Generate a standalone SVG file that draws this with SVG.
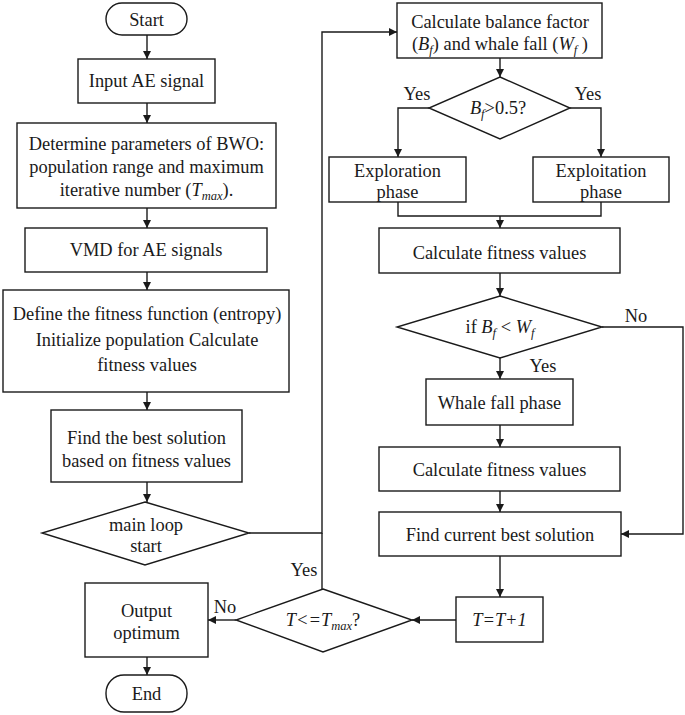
<svg xmlns="http://www.w3.org/2000/svg" width="685" height="715" viewBox="0 0 685 715">
<style>
.n{fill:#fff;stroke:#1a1a1a;stroke-width:1.4}
.c{fill:none;stroke:#1a1a1a;stroke-width:1.4}
text{font-family:"Liberation Serif","Times New Roman",serif;font-size:18.4px;fill:#1a1a1a;text-anchor:middle}
.i{font-style:italic}
.s{font-size:12.5px;font-style:italic}
</style>
<defs>
<marker id="a" markerWidth="9" markerHeight="8" refX="8" refY="4" orient="auto" markerUnits="userSpaceOnUse">
<path d="M0,0 L8,4 L0,8 z" fill="#1a1a1a"/>
</marker>
</defs>
<rect width="685" height="715" fill="#fff"/>
<g id="connectors">
<path class="c" d="M147,35 V59" marker-end="url(#a)"/>
<path class="c" d="M147,103 V123" marker-end="url(#a)"/>
<path class="c" d="M147,208 V228" marker-end="url(#a)"/>
<path class="c" d="M147,272 V290" marker-end="url(#a)"/>
<path class="c" d="M147,392 V410" marker-end="url(#a)"/>
<path class="c" d="M147,482 V502" marker-end="url(#a)"/>
<path class="c" d="M249,533 H322 V32 H397" marker-end="url(#a)"/>
<path class="c" d="M322,589 V533"/>
<path class="c" d="M500,58 V77" marker-end="url(#a)"/>
<path class="c" d="M429,108 H398 V157" marker-end="url(#a)"/>
<path class="c" d="M570,108 H601 V157" marker-end="url(#a)"/>
<path class="c" d="M398,202 V216 H601 V202"/>
<path class="c" d="M500,216 V228" marker-end="url(#a)"/>
<path class="c" d="M500,273 V296" marker-end="url(#a)"/>
<path class="c" d="M500,358 V379" marker-end="url(#a)"/>
<path class="c" d="M602,327 H683 V534 H621" marker-end="url(#a)"/>
<path class="c" d="M500,425 V447" marker-end="url(#a)"/>
<path class="c" d="M500,491 V512" marker-end="url(#a)"/>
<path class="c" d="M500,556 V597" marker-end="url(#a)"/>
<path class="c" d="M456,620 H412" marker-end="url(#a)"/>
<path class="c" d="M236,620 H208" marker-end="url(#a)"/>
<path class="c" d="M147,657 V675" marker-end="url(#a)"/>
<text x="417" y="100">Yes</text>
<text x="588" y="100">Yes</text>
<text x="636" y="322">No</text>
<text x="543" y="372">Yes</text>
<text x="304" y="576">Yes</text>
<text x="225" y="613">No</text>
</g>
<g id="start">
<rect class="n" x="106" y="3" width="81" height="32" rx="16"/>
<text x="146.5" y="26">Start</text>
</g>
<g id="input">
<rect class="n" x="78" y="59" width="137" height="44"/>
<text x="146.5" y="87">Input AE signal</text>
</g>
<g id="determine">
<rect class="n" x="17" y="123" width="259" height="85"/>
<text x="146.5" y="150">Determine parameters of BWO:</text>
<text x="146.5" y="173">population range and maximum</text>
<text x="146.5" y="196">iterative number (<tspan class="i">T</tspan><tspan class="s" dy="4">max</tspan><tspan dy="-4">).</tspan></text>
</g>
<g id="vmd">
<rect class="n" x="25" y="228" width="242" height="44"/>
<text x="146" y="256">VMD for AE signals</text>
</g>
<g id="define">
<rect class="n" x="3" y="290" width="286" height="102"/>
<text x="147" y="320">Define the fitness function (entropy)</text>
<text x="147" y="346">Initialize population Calculate</text>
<text x="147" y="371">fitness values</text>
</g>
<g id="findbest">
<rect class="n" x="51" y="410" width="191" height="72"/>
<text x="146.5" y="444">Find the best solution</text>
<text x="146.5" y="467">based on fitness values</text>
</g>
<g id="mainloop">
<polygon class="n" points="145,502 249,533 145,565 42,533"/>
<text x="146" y="531">main loop</text>
<text x="146" y="552">start</text>
</g>
<g id="balance">
<rect class="n" x="397" y="3" width="205" height="55"/>
<text x="500" y="28">Calculate balance factor</text>
<text x="500" y="50">(<tspan class="i">B</tspan><tspan class="s" dy="4">f</tspan><tspan dy="-4">) and whale fall (</tspan><tspan class="i">W</tspan><tspan class="s" dy="4">f</tspan><tspan dy="-4"> )</tspan></text>
</g>
<g id="bfdecision">
<polygon class="n" points="500,77 570,108 500,139 429,108"/>
<text x="498" y="114"><tspan class="i">B</tspan><tspan class="s" dy="4">f</tspan><tspan dy="-4">&gt;0.5?</tspan></text>
</g>
<g id="exploration">
<rect class="n" x="329" y="157" width="137" height="45"/>
<text x="397.5" y="177">Exploration</text>
<text x="397.5" y="198">phase</text>
</g>
<g id="exploitation">
<rect class="n" x="533" y="157" width="136" height="45"/>
<text x="601" y="177">Exploitation</text>
<text x="601" y="198">phase</text>
</g>
<g id="fitness1">
<rect class="n" x="379" y="228" width="241" height="45"/>
<text x="499.5" y="259">Calculate fitness values</text>
</g>
<g id="ifdecision">
<polygon class="n" points="500,296 602,327 500,358 397,327"/>
<text x="500" y="333">if <tspan class="i">B</tspan><tspan class="s" dy="4">f</tspan><tspan dy="-4"> &lt; </tspan><tspan class="i">W</tspan><tspan class="s" dy="4">f</tspan></text>
</g>
<g id="whalefall">
<rect class="n" x="426" y="379" width="147" height="46"/>
<text x="499.5" y="409">Whale fall phase</text>
</g>
<g id="fitness2">
<rect class="n" x="379" y="447" width="241" height="44"/>
<text x="499.5" y="476">Calculate fitness values</text>
</g>
<g id="currentbest">
<rect class="n" x="379" y="512" width="242" height="44"/>
<text x="500" y="541">Find current best solution</text>
</g>
<g id="increment">
<rect class="n" x="456" y="597" width="87" height="45"/>
<text x="499.5" y="626" class="i">T=T+1</text>
</g>
<g id="tdecision">
<polygon class="n" points="323,589 412,620 323,652 236,620"/>
<text x="323" y="626"><tspan class="i">T&lt;=T</tspan><tspan class="s" dy="4">max</tspan><tspan dy="-4">?</tspan></text>
</g>
<g id="output">
<rect class="n" x="85" y="583" width="123" height="74"/>
<text x="146.5" y="617">Output</text>
<text x="146.5" y="639">optimum</text>
</g>
<g id="end">
<rect class="n" x="106" y="675" width="81" height="37" rx="18"/>
<text x="146.5" y="700">End</text>
</g>
</svg>
